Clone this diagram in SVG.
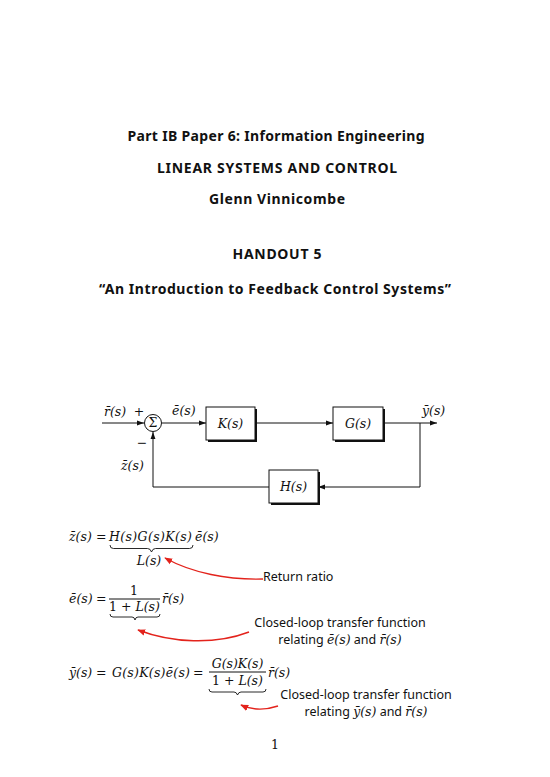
<svg xmlns="http://www.w3.org/2000/svg" width="550" height="777" viewBox="0 0 550 777">
<defs>
<style>
.title{font-family:"Noto Sans","DejaVu Sans",sans-serif;font-weight:bold;font-size:14px;fill:#111;text-anchor:middle}
.m{font-family:"DejaVu Serif","Liberation Serif",serif;font-style:italic;font-size:12.5px;fill:#111}
.up{font-family:"DejaVu Serif","Liberation Serif",serif;font-style:normal;font-size:12.5px;fill:#111}
.s{font-family:"Noto Sans","DejaVu Sans",sans-serif;font-size:12.5px;fill:#111}
.ln{fill:none;stroke:#111;stroke-width:1}
.box{fill:#fff;stroke:#111;stroke-width:1}
.sh{fill:#111}
.br{fill:none;stroke:#111;stroke-width:0.9}
.red{fill:none;stroke:#e3231c;stroke-width:1.4}
</style>
<marker id="ah" viewBox="0 0 10 10" refX="10" refY="5" markerWidth="7" markerHeight="7" orient="auto" markerUnits="userSpaceOnUse">
<path d="M0,1.5 L10,5 L0,8.5 z" fill="#111"/>
</marker>
<marker id="rh" viewBox="0 0 10 10" refX="9" refY="5" markerWidth="8" markerHeight="8" orient="auto" markerUnits="userSpaceOnUse">
<path d="M0,1 L10,5 L0,9 z" fill="#e3231c"/>
</marker>
</defs>
<rect width="550" height="777" fill="#fff"/>

<g id="titles">
<text class="title" x="276" y="141" textLength="297" lengthAdjust="spacing">Part IB Paper 6: Information Engineering</text>
<text class="title" x="277" y="173" textLength="240" lengthAdjust="spacing">LINEAR SYSTEMS AND CONTROL</text>
<text class="title" x="277" y="204" textLength="136" lengthAdjust="spacing">Glenn Vinnicombe</text>
<text class="title" x="277" y="259" textLength="89" lengthAdjust="spacing">HANDOUT 5</text>
<text class="title" x="275" y="294" textLength="352" lengthAdjust="spacing">“An Introduction to Feedback Control Systems”</text>
</g>

<g id="connectors">
<line class="ln" x1="102" y1="423" x2="144" y2="423" marker-end="url(#ah)"/>
<line class="ln" x1="162" y1="423" x2="206" y2="423" marker-end="url(#ah)"/>
<line class="ln" x1="255" y1="423" x2="333" y2="423" marker-end="url(#ah)"/>
<line class="ln" x1="383" y1="423" x2="437" y2="423" marker-end="url(#ah)"/>
<polyline class="ln" points="420,423 420,487 318,487" marker-end="url(#ah)"/>
<polyline class="ln" points="269,487 153,487 153,432" marker-end="url(#ah)"/>
</g>

<g id="sum">
<circle cx="153" cy="423" r="8.5" fill="#fff" stroke="#111" stroke-width="1"/>
<text class="up" x="153" y="427" text-anchor="middle" font-size="10">Σ</text>
<text class="up" x="139" y="416" text-anchor="middle" font-size="10">+</text>
<text class="up" x="142" y="447" text-anchor="middle" font-size="11">−</text>
</g>

<g id="K">
<rect class="sh" x="208" y="409" width="49" height="33"/>
<rect class="box" x="206" y="407" width="49" height="33"/>
<text class="m" x="230.5" y="428" text-anchor="middle">K(s)</text>
</g>
<g id="G">
<rect class="sh" x="335" y="409" width="50" height="33"/>
<rect class="box" x="333" y="407" width="50" height="33"/>
<text class="m" x="358" y="428" text-anchor="middle">G(s)</text>
</g>
<g id="H">
<rect class="sh" x="271" y="472" width="49" height="33"/>
<rect class="box" x="269" y="470" width="49" height="33"/>
<text class="m" x="293.5" y="491" text-anchor="middle">H(s)</text>
</g>

<g id="signal-labels">
<text class="m" x="104" y="416">r̄(s)</text>
<text class="m" x="172" y="415">ē(s)</text>
<text class="m" x="422" y="415">ȳ(s)</text>
<text class="m" x="121" y="470">z̄(s)</text>
</g>

<g id="eq1">
<text class="m" x="69" y="541">z̄(s)</text>
<text class="up" x="96" y="541">=</text>
<text class="m" x="109" y="541" textLength="83" lengthAdjust="spacing">H(s)G(s)K(s)</text>
<text class="m" x="195" y="541">ē(s)</text>
<path class="br" d="M110,545 q0,3.5 3.5,3.5 h34 q3,0 4,3.5 q1,-3.5 4,-3.5 h34 q3.5,0 3.5,-3.5"/>
<text class="m" x="149" y="565" text-anchor="middle">L(s)</text>
</g>

<g id="eq2">
<text class="m" x="69" y="603">ē(s)</text>
<text class="up" x="96" y="603">=</text>
<text class="up" x="134" y="595" text-anchor="middle">1</text>
<line class="ln" x1="109" y1="599" x2="160" y2="599"/>
<text class="m" x="134.5" y="611" text-anchor="middle"><tspan class="up">1 + </tspan>L(s)</text>
<text class="m" x="162" y="603">r̄(s)</text>
<path class="br" d="M110,614 q0,3 3,3 h19 q2.5,0 3,3 q0.5,-3 3,-3 h19 q3,0 3,-3"/>
</g>

<g id="eq3">
<text class="m" x="69" y="677">ȳ(s)</text>
<text class="up" x="96" y="677">=</text>
<text class="m" x="112" y="677" textLength="78" lengthAdjust="spacing">G(s)K(s)ē(s)</text>
<text class="up" x="193" y="677">=</text>
<text class="m" x="237.5" y="668" text-anchor="middle">G(s)K(s)</text>
<line class="ln" x1="209" y1="672" x2="266" y2="672"/>
<text class="m" x="237.5" y="685" text-anchor="middle"><tspan class="up">1 + </tspan>L(s)</text>
<text class="m" x="268" y="677">r̄(s)</text>
<path class="br" d="M209,689 q0,3 3,3 h22 q2.5,0 3.5,3 q1,-3 3.5,-3 h22 q3,0 3,-3"/>
</g>

<g id="annotations">
<path class="red" d="M263,579 C228,580 192,573 165,558" marker-end="url(#rh)"/>
<text class="s" x="263" y="581">Return ratio</text>
<path class="red" d="M249,632 C215,645 172,643 138,630" marker-end="url(#rh)"/>
<text class="s" x="340" y="627" text-anchor="middle">Closed-loop transfer function</text>
<text class="s" x="340" y="644" text-anchor="middle">relating <tspan class="m">ē(s)</tspan> and <tspan class="m">r̄(s)</tspan></text>
<path class="red" d="M278,706 C266,710 252,710 241,705" marker-end="url(#rh)"/>
<text class="s" x="366" y="699" text-anchor="middle">Closed-loop transfer function</text>
<text class="s" x="366" y="716" text-anchor="middle">relating <tspan class="m">ȳ(s)</tspan> and <tspan class="m">r̄(s)</tspan></text>
</g>

<g id="page">
<text class="up" x="275" y="749" text-anchor="middle" font-size="11">1</text>
</g>
</svg>
